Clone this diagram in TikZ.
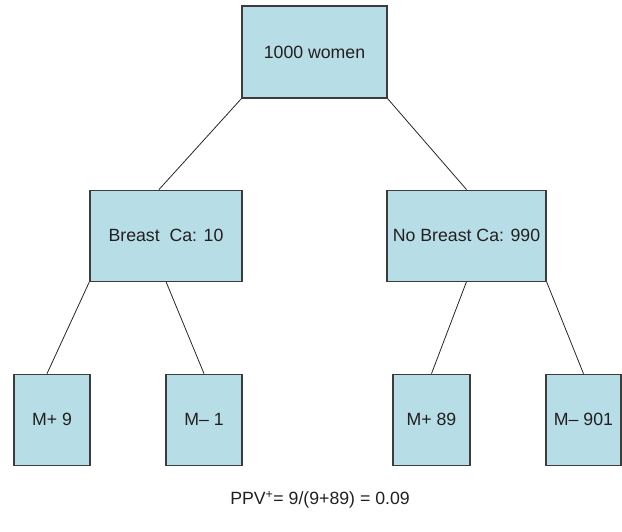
\documentclass[tikz,border=0pt]{standalone}
\usepackage{fontspec}
\setmainfont{Liberation Sans}
\usetikzlibrary{positioning}
\definecolor{boxfill}{RGB}{183,221,231}
\definecolor{boxline}{RGB}{60,60,60}
\definecolor{textgray}{RGB}{35,31,32}
\tikzstyle{box} = [rectangle,fill=boxfill,draw=boxline,line width=1.1pt,inner sep=0pt,text=textgray, font=\fontsize{17.7}{18}\selectfont]
\tikzstyle{edge} = [draw=black!85,line width=0.8pt]

\begin{document}
\begin{tikzpicture}[x=1pt,y=-1pt]
\useasboundingbox (0,0) rectangle (622,532);

% Define nodes
\node[box, minimum width=145pt, minimum height=92pt]                          (top)      at (314.5,52) {1000 women};
\node[box, below = 91pt of top, xshift = -148.5pt, minimum width=152pt, minimum height=91pt] (ca)   {Breast\ \ Ca: 10};
\node[box, below = 91pt of top, xshift = 152pt, minimum width=159pt, minimum height=91pt]    (noca) {No Breast Ca: 990};

\node[box, below = 92pt of ca, xshift = -114pt, minimum width=76pt, minimum height=91pt]    (capos)   {M+ 9};
\node[box, below = 92pt of ca, xshift = 38pt, minimum width=76pt, minimum height=91pt]      (caneg)   {M\textendash\ 1};
\node[box, below = 92pt of noca, xshift = -35pt, minimum width=77pt, minimum height=91pt]   (nocapos) {M+ 89};
\node[box, below = 92pt of noca, xshift = 117pt, minimum width=75pt, minimum height=91pt]   (nocaneg) {M\textendash\ 901};

\node[text=textgray, font=\fontsize{17.7}{18}\selectfont] (ppv) at (320,500) {PPV\textsuperscript{+}= 9/(9+89) = 0.09};

% Edges
\draw[edge] (top.south west) -- ([xshift=-7pt]ca.north);
\draw[edge] (top.south east) -- (noca.north);
\draw[edge] (ca.south west)  -- ([xshift=-5pt]capos.north);
\draw[edge] (ca.south)       -- (caneg.north);
\draw[edge] (noca.south)     -- (nocapos.north);
\draw[edge] (noca.south east) -- (nocaneg.north);
\end{tikzpicture}
\end{document}
